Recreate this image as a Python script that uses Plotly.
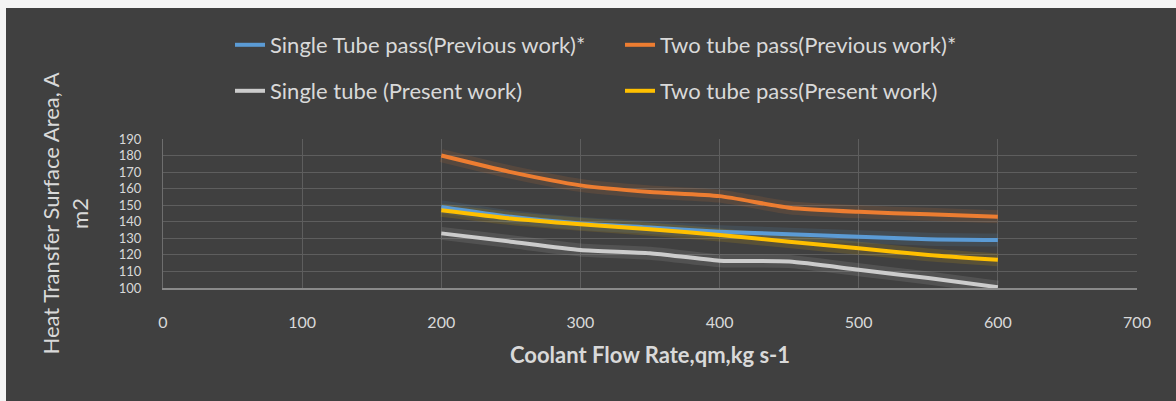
import plotly.graph_objects as go

# Coolant flow rate (kg/s) and heat transfer surface area (m2) for each configuration
flow_rate = [200, 250, 300, 350, 400, 450, 500, 550, 600]
single_prev = [149, 143, 139, 136.5, 134, 132.5, 131, 129.5, 129]
two_prev = [180, 170, 162, 158, 155.5, 148.5, 146, 144.5, 143]
single_present = [133, 128, 123, 121, 116.5, 116, 111, 106, 100.5]
two_present = [147, 142, 138.5, 135.5, 132, 128, 124, 120, 117]

series_names = [
    "Single Tube pass(Previous work)*",
    "Two tube pass(Previous work)*",
    "Single tube (Present work)",
    "Two tube pass(Present work)",
]
series_values = [single_prev, two_prev, single_present, two_present]
series_colors = ["#5b9bd5", "#ed7d31", "#cccccc", "#ffc000"]
series_legends = ["legend", "legend", "legend2", "legend2"]

x_ticks = [0, 100, 200, 300, 400, 500, 600, 700]
y_ticks = [100, 110, 120, 130, 140, 150, 160, 170, 180, 190]

W, H = 1176, 401
M_L, M_R, M_T, M_B = 163, 39, 139, 113
plot_w = W - M_L - M_R
plot_h = H - M_T - M_B

FONT = "Lato, Open Sans, sans-serif"
TEXT = "#d9d9d9"
BG = "#404040"

fig = go.Figure()

# soft glow under each line
for vals, col in zip(series_values, series_colors):
    fig.add_trace(go.Scatter(
        x=flow_rate, y=vals, mode="lines", showlegend=False, hoverinfo="skip",
        line=dict(color=col, width=13, shape="spline", smoothing=0.6), opacity=0.13,
    ))

for name, vals, col, lg in zip(series_names, series_values, series_colors, series_legends):
    fig.add_trace(go.Scatter(
        x=flow_rate, y=vals, mode="lines", name=name, legend=lg,
        line=dict(color=col, width=4, shape="spline", smoothing=0.6),
    ))

def px_x(px):
    # pixel column (from the left of the page) to paper x
    return (px - M_L) / plot_w

def px_y(px):
    # pixel row (from the top of the page) to paper y
    return (H - M_B - px) / plot_h

legend_style = dict(
    orientation="h", x=px_x(230), yanchor="middle", xanchor="left",
    entrywidth=345, bgcolor="rgba(0,0,0,0)", font=dict(size=22, color=TEXT),
)

fig.update_layout(
    width=W, height=H,
    margin=dict(l=M_L, r=M_R, t=M_T, b=M_B, autoexpand=False),
    paper_bgcolor="#f4f4f4",
    plot_bgcolor=BG,
    font=dict(family=FONT, color=TEXT, size=16),
    shapes=[dict(
        type="rect", xref="paper", yref="paper", layer="below",
        x0=px_x(6), x1=px_x(W), y0=px_y(H), y1=px_y(8),
        fillcolor=BG, line=dict(width=0),
    )],
    xaxis=dict(
        range=[0, 700], tickvals=x_ticks, showgrid=True, gridcolor="#5e5e5e", gridwidth=1,
        zeroline=False, showline=True, linecolor="#8a8a8a", linewidth=1.5,
        ticks="", ticklabelstandoff=19, tickfont=dict(size=16, color=TEXT),
        title=dict(text="<b>Coolant Flow Rate,qm,kg s-1</b>", font=dict(size=22, color=TEXT), standoff=18),
    ),
    yaxis=dict(
        range=[100, 190], tickvals=y_ticks, showgrid=True, gridcolor="#5e5e5e", gridwidth=1,
        zeroline=False, showline=True, linecolor="#6e6e6e", linewidth=1,
        ticks="", ticklabelstandoff=18, tickfont=dict(size=13, color=TEXT),
        title=dict(text="Heat Transfer Surface Area, A<br>m2", font=dict(size=22, color=TEXT), standoff=24),
    ),
    legend=dict(legend_style, y=px_y(45)),
    legend2=dict(legend_style, y=px_y(91)),
)

fig.write_html("out.html")
